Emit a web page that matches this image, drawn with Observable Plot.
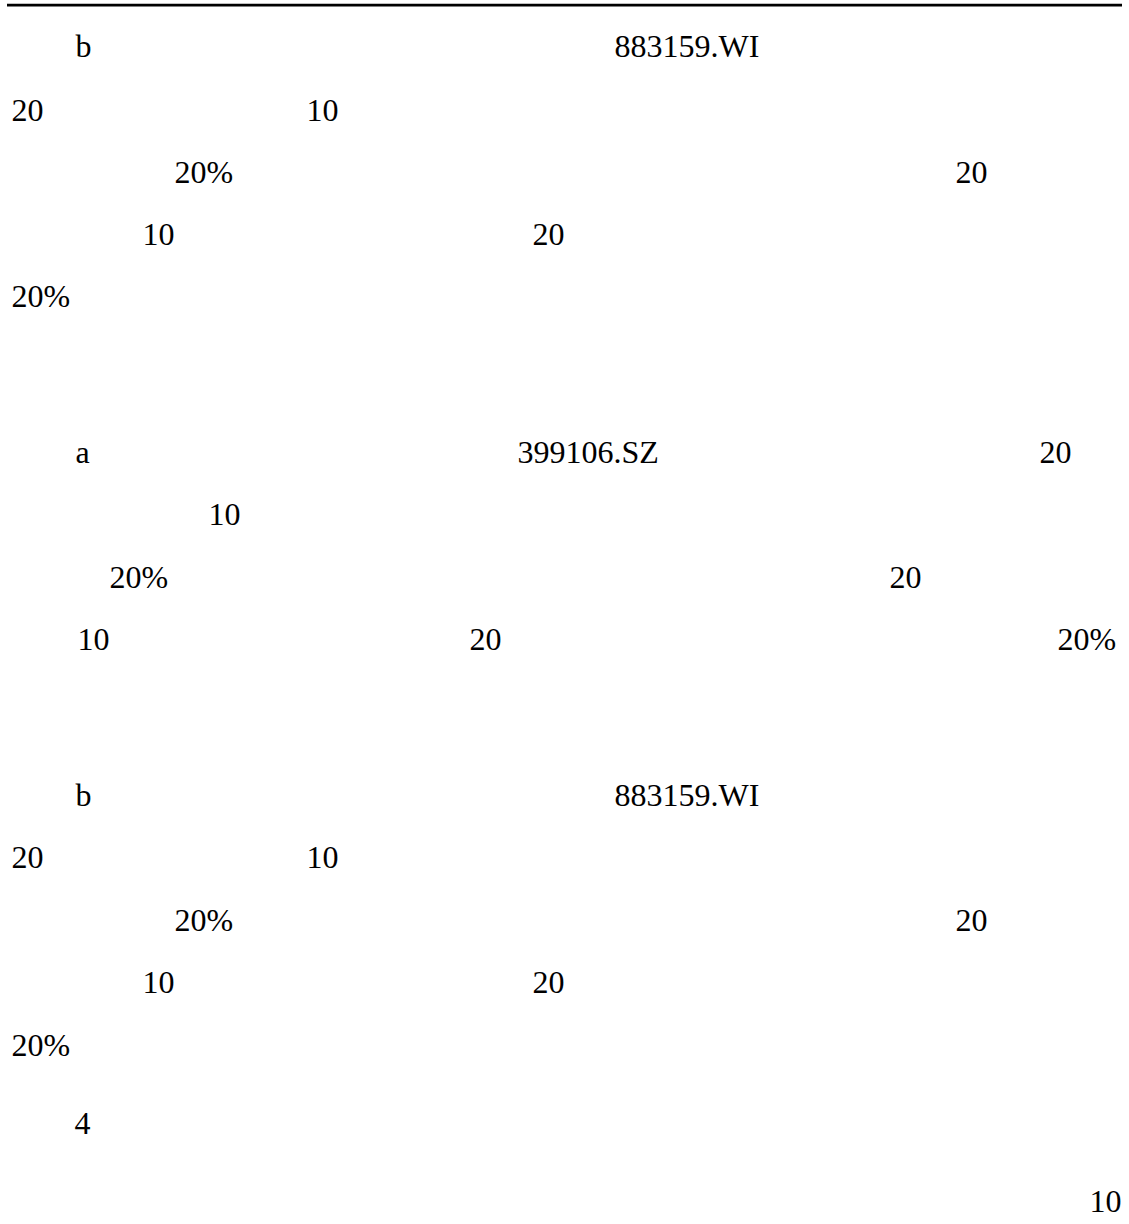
<!DOCTYPE html>
<html>
<head>
<meta charset="utf-8">
<script src="https://cdn.jsdelivr.net/npm/d3@7"></script>
<script src="https://cdn.jsdelivr.net/npm/@observablehq/plot@0.6"></script>
<style>
  html, body { margin: 0; padding: 0; background: #fff; }
  #chart svg { display: block; }
</style>
</head>
<body>
<div id="chart"></div>
<script>
// Text fragments read from the page (only the Latin glyphs are rendered)
const labels = [
  "b", "883159.WI",
  "20", "10",
  "20%", "20",
  "10", "20",
  "20%",
  "a", "399106.SZ", "20",
  "10",
  "20%", "20",
  "10", "20", "20%",
  "b", "883159.WI",
  "20", "10",
  "20%", "20",
  "10", "20",
  "20%",
  "4",
  "10"
];
// horizontal position of each fragment on the page (px)
const labelX = [
  75, 614,
  11, 306,
  174, 955,
  142, 532,
  11,
  75, 517, 1039,
  208,
  109, 889,
  77, 469, 1057,
  75, 614,
  11, 306,
  174, 955,
  142, 532,
  11,
  74,
  1089
];
// baseline of each fragment on the page (px)
const labelY = [
  56, 56,
  120, 120,
  182, 182,
  244, 244,
  306,
  462, 462, 462,
  524,
  587, 587,
  649, 649, 649,
  805, 805,
  867, 867,
  930, 930,
  992, 992,
  1055,
  1133,
  1211
];
// header rule
const ruleYs = [4.7];
const ruleX1 = [7];
const ruleX2 = [1122];

const texts = labels.map((t, i) => ({t, x: labelX[i], y: labelY[i]}));
const rules = ruleYs.map((y, i) => ({y, x1: ruleX1[i], x2: ruleX2[i]}));

const chart = Plot.plot({
  width: 1129,
  height: 1224,
  margin: 0,
  x: {domain: [0, 1129], range: [0, 1129], axis: null},
  y: {domain: [0, 1224], range: [0, 1224], axis: null},
  style: {
    fontFamily: "'Liberation Serif', 'Times New Roman', serif",
    fontSize: "32px",
    background: "#fff",
    color: "#000",
    overflow: "visible"
  },
  marks: [
    Plot.ruleY(rules, {y: "y", x1: "x1", x2: "x2", stroke: "#000", strokeWidth: 2.7}),
    Plot.text(texts, {
      x: "x", y: "y", text: "t",
      textAnchor: "start", lineAnchor: "bottom",
      fill: "#000", fontSize: 32,
      fontFamily: "'Liberation Serif', 'Times New Roman', serif"
    })
  ]
});
document.getElementById("chart").appendChild(chart);
</script>
</body>
</html>
